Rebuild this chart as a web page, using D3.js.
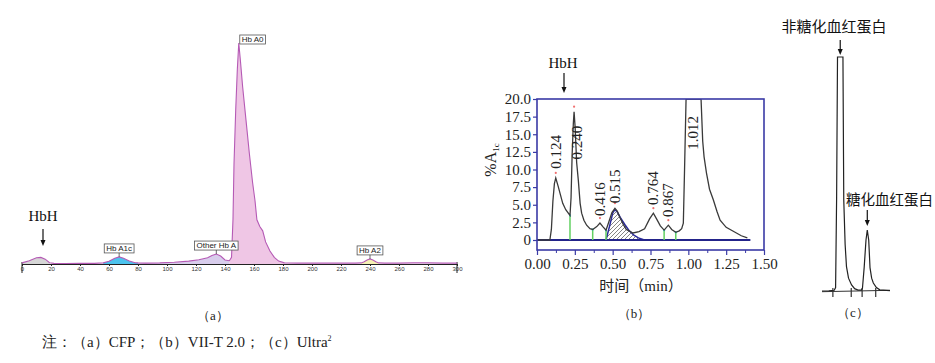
<!DOCTYPE html>
<html>
<head>
<meta charset="utf-8">
<script src="https://cdn.jsdelivr.net/npm/d3@7"></script>
<style>
  body { margin: 0; background: #fff; }
  svg { display: block; }
</style>
</head>
<body>
<div id="chart"></div>
<script>
// ---- Panel (a): CFP chromatogram, [time, % of Hb A0 peak] ----
const cfpTrace = [
  [0, 0.5], [5, 1.5], [10, 2.8], [13, 3.0], [16, 2.2], [19, 0.6], [22, 0.3], [30, 0.2],
  [40, 0.3], [50, 0.3], [56, 0.5], [60, 1.2], [64, 2.6], [67, 3.2], [70, 2.6], [74, 1.4],
  [78, 0.6], [80, 0.5], [85, 0.4], [95, 0.5], [105, 0.8], [115, 1.3], [122, 1.9], [128, 2.8],
  [131, 3.8], [134, 4.5], [137, 3.6], [140, 1.8], [143, 1.5], [144.5, 3], [145.5, 20],
  [146.2, 45], [147.4, 70], [148.5, 88], [149.5, 100], [150.5, 93], [152.2, 80], [154.5, 65],
  [156.8, 50], [159, 37], [160.7, 28.6], [162, 20], [164, 17], [166, 15], [168, 10],
  [171, 5.9], [174, 3], [177, 1.3], [181, 0.5], [190, 0.4], [200, 0.4], [210, 0.4],
  [220, 0.4], [230, 0.4], [234, 0.5], [236, 1.0], [238, 1.8], [240, 2.3], [242, 1.8],
  [244, 1.0], [246, 0.5], [250, 0.4], [260, 0.4], [270, 0.5], [280, 0.5], [290, 0.4], [300, 0.4]
];
const cfpPeakNames = ["HbH", "Hb A1c", "Other Hb A", "Hb A0", "Hb A2"];
const cfpPeakSpans = [[0, 20], [56, 80], [80, 143], [143, 181], [234, 246]];
const cfpPeakApex = [13, 67, 134, 149.5, 240];
const cfpTicks = [0, 20, 40, 60, 80, 100, 120, 140, 160, 180, 200, 220, 240, 260, 280, 300];

// ---- Panel (b): VII-T 2.0 chromatogram, [min, %A1c] ----
const vtTrace = [
  [0, 0], [0.05, 0], [0.085, 0], [0.095, 1.5], [0.105, 5.5], [0.115, 8.0], [0.124, 8.8],
  [0.14, 7.6], [0.155, 6.4], [0.17, 5.2], [0.19, 4.3], [0.218, 3.5], [0.225, 6],
  [0.232, 12], [0.24, 16.5], [0.245, 18.2], [0.252, 16], [0.262, 11], [0.273, 8.5],
  [0.285, 5.2], [0.295, 3.8], [0.31, 2.8], [0.328, 2.1], [0.35, 1.6], [0.368, 1.5],
  [0.395, 1.9], [0.416, 2.4], [0.435, 1.9], [0.456, 1.4], [0.475, 2.6], [0.495, 3.9],
  [0.515, 4.5], [0.53, 4.1], [0.548, 3.2], [0.57, 2.2], [0.59, 1.5], [0.634, 1.0],
  [0.674, 1.2], [0.711, 1.6], [0.744, 3.0], [0.769, 3.8], [0.79, 3.0], [0.815, 2.0],
  [0.84, 1.4], [0.868, 2.1], [0.89, 1.5], [0.917, 1.1], [0.94, 1.3], [0.956, 1.6],
  [0.967, 2.4], [0.975, 10], [0.985, 20], [1.084, 20], [1.095, 14], [1.104, 11.8],
  [1.12, 9.5], [1.14, 7.2], [1.165, 5.7], [1.19, 4.0], [1.21, 2.8], [1.25, 1.8],
  [1.3, 1.2], [1.35, 0.6], [1.39, 0.3]
];
const vtPeakTimes = [0.124, 0.245, 0.416, 0.515, 0.769, 0.868, 1.012];
const vtPeakLabels = ["0.124", "0.240", "0.416", "0.515", "0.764", "0.867", "1.012"];
const vtCutTimes = [0.218, 0.368, 0.456, 0.84, 0.917];
const vtFitTrace = [
  [0.456, 0], [0.48, 2.0], [0.5, 3.8], [0.515, 4.3], [0.53, 4.0], [0.55, 3.2],
  [0.58, 2.2], [0.61, 1.3], [0.64, 0.7], [0.67, 0.3], [0.71, 0]
];
const vtYTicks = [0, 2.5, 5, 7.5, 10, 12.5, 15, 17.5, 20];
const vtXTicks = [0, 0.25, 0.5, 0.75, 1.0, 1.25, 1.5];

// ---- Panel (c): Ultra2 chromatogram, [time, relative signal] ----
const ultraTrace = [
  [0, 0], [1.0, 0.1], [1.8, 0.3], [2.0, 1.5], [2.15, 40], [2.28, 100], [3.08, 100],
  [3.2, 39], [3.4, 20], [3.6, 10.4], [3.9, 5.5], [4.35, 2.6], [4.8, 1.0], [5.3, 0.4],
  [5.8, 0.4], [5.95, 1.2], [6.2, 10], [6.47, 21.8], [6.66, 26], [6.87, 21.8],
  [7.06, 10], [7.3, 5.5], [7.55, 3.4], [8.0, 1.5], [8.5, 0.5], [10, 0.2]
];
const ultraTickTimes = [1.6, 4.3, 5.9, 7.9];
const ultraLabels = ["非糖化血红蛋白", "糖化血红蛋白"];
const ultraApex = [2.68, 6.66];

// ---- helpers ----
const SERIF = "'Liberation Serif','Times New Roman',serif";
const SANS = "'Liberation Sans',Arial,sans-serif";
const CJK = "'Noto Sans CJK SC',sans-serif";

const valueAt = (trace, t) => {
  const i = d3.bisector((d) => d[0]).left(trace, t);
  if (i <= 0) return trace[0][1];
  if (i >= trace.length) return trace[trace.length - 1][1];
  const [t0, v0] = trace[i - 1];
  const [t1, v1] = trace[i];
  return v0 + ((v1 - v0) * (t - t0)) / (t1 - t0);
};

const svg = d3.select("#chart").append("svg")
  .attr("width", 935).attr("height", 363)
  .attr("viewBox", [0, 0, 935, 363]);
svg.append("rect").attr("width", 935).attr("height", 363).attr("fill", "#fff");

const drawArrow = (g, x, yTop, yBottom) => {
  g.append("line").attr("x1", x).attr("x2", x).attr("y1", yTop).attr("y2", yBottom - 4)
    .attr("stroke", "#111").attr("stroke-width", 1.2);
  g.append("path").attr("d", `M${x - 2.5},${yBottom - 6}L${x + 2.5},${yBottom - 6}L${x},${yBottom}Z`)
    .attr("fill", "#111");
};

// ================= Panel (a) =================
const gA = svg.append("g");
const xA = d3.scaleLinear().domain([0, 300]).range([22, 457]);
const yA = d3.scaleLinear().domain([0, 100]).range([264, 43]);

const peakFill = {
  "HbH": "#d6d6d6",
  "Hb A1c": "#4cc3ee",
  "Other Hb A": "#d8cdec",
  "Hb A0": "#efc6e5",
  "Hb A2": "#f6f1b4",
};

const areaA = d3.area().x((d) => xA(d[0])).y0(yA(0)).y1((d) => yA(d[1]));
cfpPeakNames.forEach((name, i) => {
  const [t0, t1] = cfpPeakSpans[i];
  const pts = cfpTrace.filter((d) => d[0] >= t0 && d[0] <= t1);
  gA.append("path").attr("d", areaA(pts)).attr("fill", peakFill[name]);
});

// axis
const axisA = gA.append("g").attr("transform", `translate(0,${yA(0)})`)
  .call(d3.axisBottom(xA).tickValues(cfpTicks).tickSize(2).tickPadding(1));
axisA.select(".domain").attr("stroke", "#222");
axisA.selectAll("line").attr("stroke", "#222");
axisA.selectAll("text").attr("font-size", 6).attr("font-family", SANS).attr("fill", "#333");
[0, 300].forEach((t) => {
  gA.append("line").attr("x1", xA(t)).attr("x2", xA(t))
    .attr("y1", yA(0) - 2).attr("y2", yA(0) + 9).attr("stroke", "#222");
});

gA.append("path")
  .attr("d", d3.line().x((d) => xA(d[0])).y((d) => yA(d[1]))(cfpTrace))
  .attr("fill", "none").attr("stroke", "#b55ab5").attr("stroke-width", 1.1);

// peak label boxes
cfpPeakNames.forEach((name, i) => {
  if (name === "HbH") return;
  const t = cfpPeakApex[i];
  const ax = xA(t), ay = yA(valueAt(cfpTrace, t));
  const lg = gA.append("g");
  const txt = lg.append("text").text(name)
    .attr("font-size", 8).attr("font-family", SANS).attr("fill", "#222");
  const w = txt.node().getComputedTextLength() + 4;
  const h = 9;
  let bx, by;
  if (name === "Hb A0") {
    bx = ax + 1; by = ay - h + 1;
  } else {
    bx = ax - w / 2; by = ay - 4 - h;
    lg.append("line").attr("x1", ax).attr("x2", ax).attr("y1", by + h).attr("y2", ay)
      .attr("stroke", "#444").attr("stroke-width", 0.8);
  }
  lg.insert("rect", "text").attr("x", bx).attr("y", by).attr("width", w).attr("height", h)
    .attr("fill", "#fff").attr("stroke", "#555").attr("stroke-width", 0.8);
  txt.attr("x", bx + 2).attr("y", by + h - 2);
});

gA.append("text").text("HbH").attr("x", 43).attr("y", 221).attr("text-anchor", "middle")
  .attr("font-size", 15).attr("font-family", SERIF).attr("fill", "#111");
drawArrow(gA, 43, 229, 246);

gA.append("text").text("（a）").attr("x", 213).attr("y", 320).attr("text-anchor", "middle")
  .attr("font-size", 13).attr("font-family", SERIF).attr("fill", "#222");

// ================= Panel (b) =================
const gB = svg.append("g");
const xB = d3.scaleLinear().domain([0, 1.5]).range([537, 764]);
const yB = d3.scaleLinear().domain([0, 20]).range([240, 99]);
const frameBottom = 250;
const blue = "#3a3aa6";

svg.append("clipPath").attr("id", "clipB").append("rect")
  .attr("x", xB(0)).attr("y", yB(20)).attr("width", xB(1.5) - xB(0))
  .attr("height", frameBottom - yB(20));

// hatch pattern for the fitted peak
const pat = svg.append("defs").append("pattern").attr("id", "hatch")
  .attr("patternUnits", "userSpaceOnUse").attr("width", 4).attr("height", 4);
pat.append("path").attr("d", "M0,4L4,0M-1,1L1,-1M3,5L5,3")
  .attr("stroke", "#333").attr("stroke-width", 0.6);

const plotB = gB.append("g").attr("clip-path", "url(#clipB)");

plotB.append("path")
  .attr("d", d3.area().x((d) => xB(d[0])).y0(yB(0)).y1((d) => yB(d[1]))(vtFitTrace))
  .attr("fill", "url(#hatch)");
plotB.append("path")
  .attr("d", d3.line().x((d) => xB(d[0])).y((d) => yB(d[1]))(vtFitTrace))
  .attr("fill", "none").attr("stroke", "#2b2b9c").attr("stroke-width", 1.5);

// zero baseline
plotB.append("line").attr("x1", xB(0)).attr("x2", xB(1.41)).attr("y1", yB(0)).attr("y2", yB(0))
  .attr("stroke", "#23238a").attr("stroke-width", 2);

// peak cut lines
vtCutTimes.forEach((t) => {
  const v = valueAt(vtTrace, t);
  plotB.append("line").attr("x1", xB(t)).attr("x2", xB(t)).attr("y1", yB(0)).attr("y2", yB(v))
    .attr("stroke", "#62d062").attr("stroke-width", 1.5);
  plotB.append("rect").attr("x", xB(t) - 1).attr("y", yB(v) - 1).attr("width", 2).attr("height", 2)
    .attr("fill", "#40c8c8");
});

plotB.append("path")
  .attr("d", d3.line().x((d) => xB(d[0])).y((d) => yB(d[1]))(vtTrace))
  .attr("fill", "none").attr("stroke", "#3a3a3a").attr("stroke-width", 1.3);

// apex markers
vtPeakTimes.slice(0, 6).forEach((t) => {
  plotB.append("circle").attr("cx", xB(t)).attr("cy", yB(valueAt(vtTrace, t)) - 5)
    .attr("r", 1.1).attr("fill", "#f07070");
});

// frame
gB.append("rect").attr("x", xB(0)).attr("y", yB(20)).attr("width", xB(1.5) - xB(0))
  .attr("height", frameBottom - yB(20)).attr("fill", "none")
  .attr("stroke", blue).attr("stroke-width", 1.6);

const axB = gB.append("g").attr("transform", `translate(${xB(0)},0)`)
  .call(d3.axisLeft(yB).tickValues(vtYTicks).tickSize(4).tickPadding(2)
    .tickFormat((d) => (d === 0 ? "0" : d.toFixed(1))));
axB.select(".domain").remove();
axB.selectAll("line").attr("stroke", blue).attr("stroke-width", 1.2);
axB.selectAll("text").attr("font-size", 15).attr("font-family", SERIF).attr("fill", "#222");

const axBx = gB.append("g").attr("transform", `translate(0,${frameBottom})`)
  .call(d3.axisBottom(xB).tickValues(vtXTicks).tickSize(5).tickPadding(3)
    .tickFormat((d) => d.toFixed(2)));
axBx.select(".domain").remove();
axBx.selectAll("line").attr("stroke", blue).attr("stroke-width", 1.2);
axBx.selectAll("text").attr("font-size", 15).attr("font-family", SERIF).attr("fill", "#222");
gB.append("g").attr("transform", `translate(0,${frameBottom})`)
  .call(d3.axisBottom(xB).tickValues(d3.range(0.125, 1.5, 0.25)).tickSize(3).tickFormat(""))
  .call((g) => g.select(".domain").remove())
  .selectAll("line").attr("stroke", blue);

// rotated peak-time labels (offset from apex, in px)
const labelLift = [26, 0, 24, 22, 25, 25, 0];
const labelFixed = [null, 13.8, null, null, null, null, 15.2];
vtPeakTimes.forEach((t, i) => {
  const v = Math.min(valueAt(vtTrace, t), 20);
  const cy = labelFixed[i] !== null ? yB(labelFixed[i]) : yB(v) - labelLift[i];
  const cx = xB(t) + (i === 1 ? 3 : 0) + (i === 6 ? 3 : 0);
  gB.append("text").text(vtPeakLabels[i])
    .attr("transform", `translate(${cx},${cy}) rotate(-90)`)
    .attr("text-anchor", "middle").attr("dominant-baseline", "central")
    .attr("font-size", 15).attr("font-family", SERIF).attr("fill", "#222");
});

// axis titles
const yl = gB.append("text").attr("transform", "translate(496,160) rotate(-90)")
  .attr("text-anchor", "middle").attr("font-size", 16).attr("font-family", SERIF).attr("fill", "#222");
yl.append("tspan").text("%A");
yl.append("tspan").text("1c").attr("font-size", 9).attr("dy", 3);

const xl = gB.append("text").attr("x", 641).attr("y", 291).attr("text-anchor", "middle")
  .attr("font-size", 15).attr("fill", "#222");
xl.append("tspan").text("时间（").attr("font-family", CJK);
xl.append("tspan").text("min").attr("font-family", SERIF);
xl.append("tspan").text("）").attr("font-family", CJK);

gB.append("text").text("HbH").attr("x", 563).attr("y", 68).attr("text-anchor", "middle")
  .attr("font-size", 15).attr("font-family", SERIF).attr("fill", "#111");
drawArrow(gB, 564, 73, 93);

gB.append("text").text("（b）").attr("x", 634).attr("y", 318).attr("text-anchor", "middle")
  .attr("font-size", 13).attr("font-family", SERIF).attr("fill", "#222");

// ================= Panel (c) =================
const gC = svg.append("g");
const xC = d3.scaleLinear().domain([0, 10]).range([822, 890]);
const yC = d3.scaleLinear().domain([0, 100]).range([291, 57]);

gC.append("line").attr("x1", xC(0)).attr("x2", xC(10)).attr("y1", yC(0) + 0.7).attr("y2", yC(0) - 0.7)
  .attr("stroke", "#333").attr("stroke-width", 1);
ultraTickTimes.forEach((t) => {
  gC.append("line").attr("x1", xC(t)).attr("x2", xC(t)).attr("y1", yC(0) - 3).attr("y2", yC(0) + 6)
    .attr("stroke", "#333").attr("stroke-width", 1.2);
});
gC.append("path")
  .attr("d", d3.line().x((d) => xC(d[0])).y((d) => yC(d[1]))(ultraTrace))
  .attr("fill", "none").attr("stroke", "#222").attr("stroke-width", 1.2);

gC.append("text").text(ultraLabels[0]).attr("x", 834).attr("y", 32).attr("text-anchor", "middle")
  .attr("font-size", 15).attr("font-family", CJK).attr("fill", "#111");
drawArrow(gC, xC(ultraApex[0]), 40, 55);
gC.append("text").text(ultraLabels[1]).attr("x", 933).attr("y", 205).attr("text-anchor", "end")
  .attr("font-size", 14.5).attr("font-family", CJK).attr("fill", "#111");
drawArrow(gC, xC(ultraApex[1]), 210, 226);

gC.append("text").text("（c）").attr("x", 853).attr("y", 317).attr("text-anchor", "middle")
  .attr("font-size", 13).attr("font-family", SERIF).attr("fill", "#222");

// ================= note =================
const note = svg.append("text").attr("x", 42).attr("y", 347)
  .attr("font-size", 15).attr("font-family", SERIF).attr("fill", "#222");
note.append("tspan").text("注：（a）CFP；（b）VII-T 2.0；（c）Ultra");
note.append("tspan").text("2").attr("font-size", 8).attr("dy", -6);
</script>
</body>
</html>
